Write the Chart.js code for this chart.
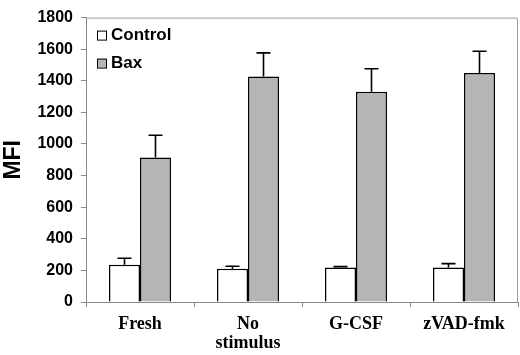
<!DOCTYPE html>
<html>
<head>
<meta charset="utf-8">
<script src="https://cdn.jsdelivr.net/npm/chart.js@4"></script>
<style>
  html, body { margin: 0; padding: 0; background: #fff; }
  #wrap { width: 520px; height: 355px; }
</style>
</head>
<body>
<div id="wrap"><canvas id="mfiChart" width="520" height="355"></canvas></div>
<script>
// data
const categories = [['Fresh'], ['No', 'stimulus'], ['G-CSF'], ['zVAD-fmk']];
const control = [235, 210, 218, 218];
const controlErr = [42, 16, 6, 25];
const bax = [915, 1427, 1330, 1450];
const baxErr = [140, 150, 146, 137];
const yTicks = [0, 200, 400, 600, 800, 1000, 1200, 1400, 1600, 1800];

// upper error bars, drawn through the chart's own scales
const errorBars = {
  id: 'errorBars',
  afterDatasetsDraw(chart) {
    const ctx = chart.ctx;
    const yScale = chart.scales.y;
    chart.data.datasets.forEach((ds, i) => {
      const meta = chart.getDatasetMeta(i);
      meta.data.forEach((bar, j) => {
        const top = yScale.getPixelForValue(ds.data[j] + ds.errors[j]);
        const capW = 7;
        ctx.save();
        ctx.strokeStyle = '#000';
        ctx.lineWidth = 1.6;
        ctx.beginPath();
        ctx.moveTo(bar.x, bar.y);
        ctx.lineTo(bar.x, top);
        ctx.moveTo(bar.x - capW, top);
        ctx.lineTo(bar.x + capW, top);
        ctx.stroke();
        ctx.restore();
      });
    });
  }
};

// light frame on top and right, plus legend inside the plot
const frameAndLegend = {
  id: 'frameAndLegend',
  afterDraw(chart) {
    const ctx = chart.ctx;
    const a = chart.chartArea;
    ctx.save();
    ctx.strokeStyle = '#a0a0a0';
    ctx.lineWidth = 1;
    ctx.beginPath();
    ctx.moveTo(a.left, a.top + 0.5);
    ctx.lineTo(a.right - 0.5, a.top + 0.5);
    ctx.lineTo(a.right - 0.5, a.bottom);
    ctx.stroke();

    ctx.font = 'bold 17px "Liberation Sans", Arial, sans-serif';
    ctx.textBaseline = 'middle';
    chart.data.datasets.forEach((ds, i) => {
      const bx = a.left + 11, by = a.top + 13 + i * 28;
      ctx.fillStyle = ds.backgroundColor;
      ctx.fillRect(bx, by, 9, 9);
      ctx.strokeStyle = '#000';
      ctx.lineWidth = 1;
      ctx.strokeRect(bx + 0.5, by + 0.5, 9, 9);
      ctx.fillStyle = '#000';
      ctx.fillText(ds.label, bx + 14, by + 5);
    });
    ctx.restore();
  }
};

new Chart(document.getElementById('mfiChart'), {
  type: 'bar',
  data: {
    labels: categories,
    datasets: [
      {
        label: 'Control',
        data: control,
        errors: controlErr,
        backgroundColor: '#ffffff',
        borderColor: '#000',
        borderWidth: 1.5,
        borderSkipped: 'bottom'
      },
      {
        label: 'Bax',
        data: bax,
        errors: baxErr,
        backgroundColor: '#b5b5b5',
        borderColor: '#000',
        borderWidth: 1.5,
        borderSkipped: 'bottom'
      }
    ]
  },
  options: {
    responsive: false,
    animation: false,
    layout: { padding: { top: 8, right: 2 } },
    datasets: {
      bar: { categoryPercentage: 0.574, barPercentage: 1 }
    },
    scales: {
      x: {
        grid: {
          offset: true,
          drawOnChartArea: false,
          color: '#888',
          tickLength: 5
        },
        border: { color: '#888', width: 1 },
        ticks: {
          color: '#000',
          padding: 7,
          maxRotation: 0,
          font: { family: '"Liberation Serif", "Times New Roman", serif', weight: 'bold', size: 18, lineHeight: 1.1 }
        },
        afterFit(s) { s.height = 53; }
      },
      y: {
        min: 0,
        max: 1800,
        afterBuildTicks(s) { s.ticks = yTicks.map(v => ({ value: v })); },
        grid: {
          drawOnChartArea: false,
          color: '#888',
          tickLength: 5
        },
        border: { color: '#888', width: 1 },
        ticks: {
          color: '#000',
          padding: 8,
          callback: v => String(v),
          font: { family: '"Liberation Sans", Arial, sans-serif', weight: 'bold', size: 16 }
        },
        title: {
          display: true,
          text: 'MFI',
          color: '#000',
          padding: { top: 0, bottom: 4 },
          font: { family: '"Liberation Sans", Arial, sans-serif', weight: 'bold', size: 23 }
        },
        afterFit(s) { s.width = 86; }
      }
    },
    plugins: {
      legend: { display: false },
      tooltip: { enabled: false }
    }
  },
  plugins: [errorBars, frameAndLegend]
});
</script>
</body>
</html>
